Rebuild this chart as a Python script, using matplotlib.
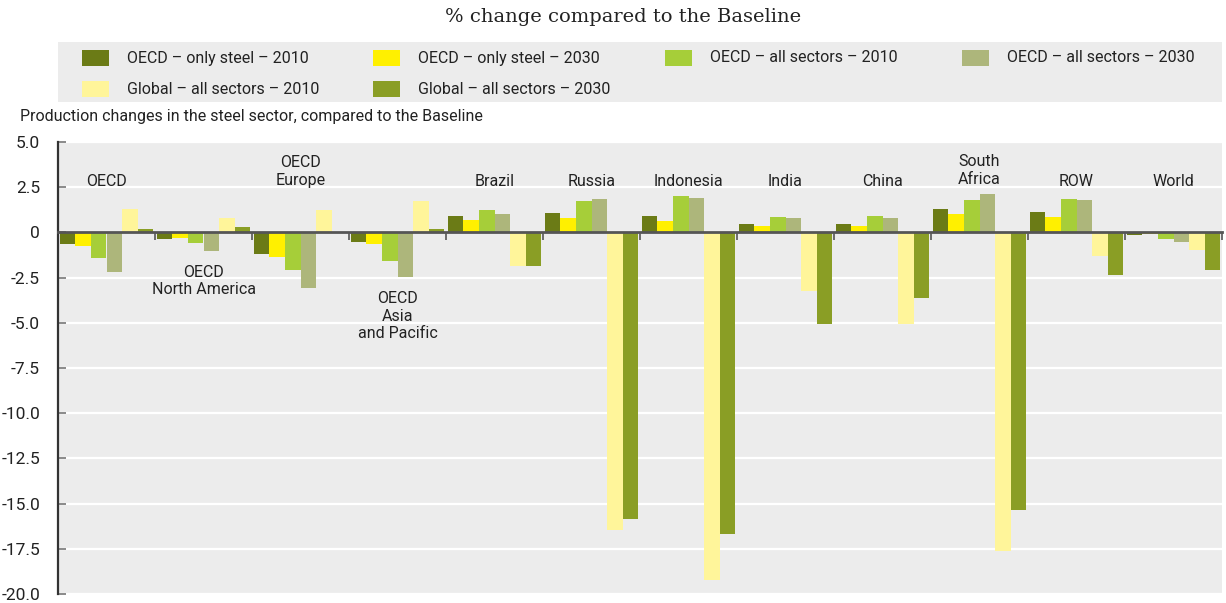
import matplotlib
matplotlib.use("Agg")
import matplotlib.pyplot as plt
import matplotlib.patches as mpatches
import numpy as np

# ── Data ──────────────────────────────────────────────────────────────────────
regions = ["OECD", "OECD\nNorth America", "OECD\nEurope", "OECD\nAsia\nand Pacific",
           "Brazil", "Russia", "Indonesia", "India", "China", "South\nAfrica",
           "ROW", "World"]

oecd_steel_2010  = [-0.65, -0.35, -1.20, -0.55, 0.92, 1.09, 0.92, 0.48, 0.44, 1.27, 1.11, -0.15]
oecd_steel_2030  = [-0.75, -0.30, -1.36, -0.65, 0.70, 0.81, 0.65, 0.37, 0.33, 1.00, 0.83, -0.08]
oecd_all_2010    = [-1.44, -0.59, -2.08, -1.59, 1.25, 1.75, 2.03, 0.87, 0.88, 1.77, 1.83, -0.37]
oecd_all_2030    = [-2.19, -1.03, -3.08, -2.47, 1.03, 1.86, 1.92, 0.81, 0.77, 2.10, 1.77, -0.53]
global_all_2010  = [1.29, 0.77, 1.22, 1.75, -1.88, -16.45, -19.20, -3.22, -5.07, -17.60, -1.33, -1.00]
global_all_2030  = [0.17, 0.28, 0.00, 0.20, -1.88, -15.85, -16.70, -5.05, -3.63, -15.35, -2.38, -2.08]

series_labels = ["OECD – only steel – 2010", "OECD – only steel – 2030",
                 "OECD – all sectors – 2010", "OECD – all sectors – 2030",
                 "Global – all sectors – 2010", "Global – all sectors – 2030"]

yticks = [5.0, 2.5, 0, -2.5, -5.0, -7.5, -10.0, -12.5, -15.0, -17.5, -20.0]
ytick_labels = ["5.0", "2.5", "0", "-2.5", "-5.0", "-7.5", "-10.0", "-12.5", "-15.0", "-17.5", "-20.0"]

# ── Style ─────────────────────────────────────────────────────────────────────
COLORS = ["#6b7b16", "#fff000", "#a6ce39", "#adb67b", "#fff59a", "#8a9e25"]
BG = "#ececec"
TXT = "#222222"
plt.rcParams["font.family"] = ["Roboto", "DejaVu Sans"]

# label y-centres (data units) for the region names
label_y = [2.81, -2.70, 3.36, -4.63, 2.81, 2.81, 2.81, 2.81, 2.81, 3.42, 2.81, 2.81]

series = [oecd_steel_2010, oecd_steel_2030, oecd_all_2010,
          oecd_all_2030, global_all_2010, global_all_2030]

fig = plt.figure(figsize=(12.26, 6.03), dpi=100)
ax = fig.add_axes([58 / 1226, 9 / 603, 1164 / 1226, 452 / 603])
ax.set_facecolor(BG)

n = len(regions)
x = np.arange(n) + 0.5
bw = 0.16
for i, (vals, col) in enumerate(zip(series, COLORS)):
    ax.bar(x + (i - 2.5) * bw, vals, width=bw, color=col, linewidth=0, zorder=2)

ax.set_xlim(0, n)
ax.set_ylim(-20, 5)
ax.set_yticks(yticks)
ax.set_yticklabels(ytick_labels, fontsize=12.5, color=TXT)
ax.yaxis.grid(True, color="white", linewidth=1.6, zorder=1)
ax.set_axisbelow(True)
ax.tick_params(axis="y", direction="in", length=6, width=1.2, color="#777777", pad=13)

# x axis on the zero line, with group separator ticks
ax.spines["bottom"].set_position(("data", 0))
ax.spines["bottom"].set_color("#555555")
ax.spines["bottom"].set_linewidth(2)
ax.spines["bottom"].set_zorder(3)
ax.set_xticks(np.arange(n + 1))
ax.set_xticklabels([])
ax.tick_params(axis="x", direction="out", length=6, width=1.2, color="#555555")
for s in ["top", "right"]:
    ax.spines[s].set_visible(False)
ax.spines["left"].set_color("#333333")
ax.spines["left"].set_linewidth(1.6)

for xi, name, yl in zip(x, regions, label_y):
    ax.text(xi, yl, name, ha="center", va="center", fontsize=11.5,
            color=TXT, linespacing=1.2, zorder=4)

# ── Legend box ────────────────────────────────────────────────────────────────
fig.patches.append(mpatches.Rectangle((58 / 1226, 1 - 102 / 603), 1164 / 1226, 60 / 603,
                                      transform=fig.transFigure, facecolor=BG,
                                      edgecolor="none"))
col_x = [82, 373, 665, 962]
row_y = [58, 89]
for k, (lab, col) in enumerate(zip(series_labels, COLORS)):
    cx, cy = col_x[k % 4 if k < 4 else k - 4], row_y[0 if k < 4 else 1]
    fig.patches.append(mpatches.Rectangle((cx / 1226, 1 - (cy + 8) / 603), 27 / 1226, 16 / 603,
                                          transform=fig.transFigure, facecolor=col,
                                          edgecolor="none"))
    fig.text((cx + 45) / 1226, 1 - cy / 603, lab, ha="left", va="center",
             fontsize=11.5, color=TXT)

fig.text(623 / 1226, 1 - 17 / 603, "% change compared to the Baseline",
         ha="center", va="center", fontsize=14, family="DejaVu Serif", color=TXT)
fig.text(20 / 1226, 1 - 116 / 603,
         "Production changes in the steel sector, compared to the Baseline",
         ha="left", va="center", fontsize=11.5, color=TXT)

fig.savefig("out.png", dpi=100, facecolor="white")
